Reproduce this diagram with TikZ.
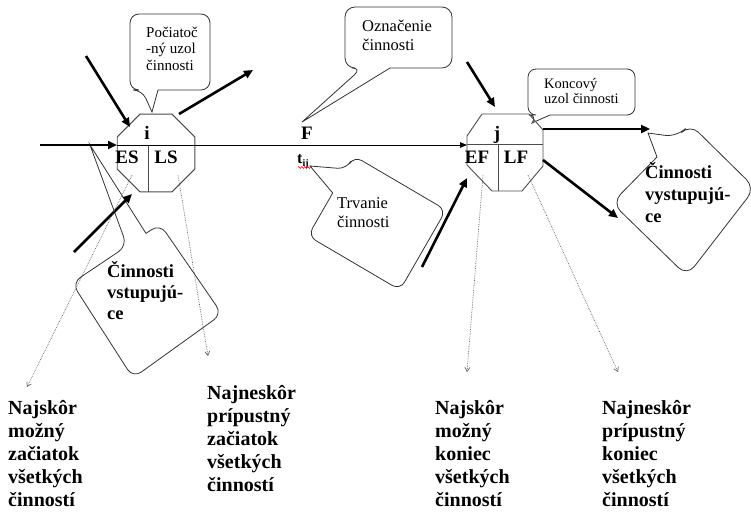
\documentclass[tikz,border=0pt]{standalone}
\usepackage{fontspec}
\setmainfont{Liberation Serif}
\usetikzlibrary{arrows.meta,shapes.geometric,decorations.pathmorphing}
\begin{document}
\begin{tikzpicture}[x=1pt,y=-1pt,
  octline/.style={draw=black!70, line width=0.9pt},
  octnode/.style={regular polygon, regular polygon sides=8, minimum size=84pt, inner sep=0pt, octline},
  bigarrow/.style={line width=2.6pt, -{Triangle[length=9pt,width=8pt]}},
  thinarrow/.style={line width=0.9pt, -{Triangle[length=7pt,width=5.5pt]}},
  dotarrow/.style={draw=black!60, line width=0.7pt, densely dotted, -{Straight Barb[length=4pt,width=5pt]}},
  callout/.style={draw=black!80, line width=0.8pt},
  blabel/.style={inner sep=0pt, font=\bfseries\fontsize{19}{22}\selectfont},
  txt/.style={inner sep=0pt, anchor=north west, align=left},
  bigtxt/.style={txt, font=\bfseries\fontsize{20}{23}\selectfont},
]
\useasboundingbox (0,0) rectangle (751,511);

% ---------- callouts ----------
% Pociatocny uzol
\draw[callout] (142,90) [sharp corners]-- (152,112) -- (158,90) [rounded corners=9pt]-- (210,90) -- (210,14) -- (130,14) -- (130,90) -- cycle;
% Oznacenie cinnosti
\draw[callout] (362,68) [sharp corners]-- (302,122) -- (390,68) [rounded corners=10pt]-- (452,68) -- (452,7) -- (345,7) -- (345,68) -- cycle;
% Trvanie cinnosti
\draw[callout] (346.5,169) [sharp corners]-- (310,166) -- (332.7,193) [rounded corners=9pt]-- (308,236) -- (400,290) -- (446,210) -- (354,156) -- cycle;
% Koncovy uzol
\draw[callout] (537,115) [sharp corners]-- (532,123) -- (550,115) [rounded corners=8pt]-- (635,115) -- (635,69) -- (528,69) -- (528,115) -- cycle;
% Cinnosti vystupujuce
\draw[callout] (677,137) [sharp corners]-- (648,133) -- (657,157) [rounded corners=12pt]-- (612,203) -- (687,276) -- (755,188) -- (690,124) -- cycle;
% Cinnosti vstupujuce
\draw[callout] (127,246) [sharp corners]-- (90,145) -- (146,233.4) [rounded corners=10pt]-- (160,224) -- (222,314) -- (133,378) -- (72,283) -- cycle;

% ---------- octagons ----------
\node[octnode] (i) at (156,153) {};
\draw[octline] (148,145) -- (148,191.8);
\coordinate (j) at (505,152);
\draw[octline] (482,114) -- (529,114) -- (543,130) -- (543,166) -- (522,191) -- (492,191) -- (467,165) -- (467,136) -- cycle;
\draw[octline] (467,144) -- (543,144);
\draw[octline] (498,144) -- (498,191);

% ---------- labels in nodes ----------
\node[blabel] (li) at (147,133) {i};
\node[blabel] (lES) at (127,157) {ES};
\node[blabel] (lLS) at (166,157) {LS};
\node[blabel] (lj) at (497,135) {j};
\node[blabel] (lEF) at (477,157) {EF};
\node[blabel] (lLF) at (516,157) {LF};
\node[blabel] (lF) at (307,133) {F};
\node[inner sep=0pt, anchor=base west, font=\bfseries\fontsize{16}{18}\selectfont] (tij) at (297,163) {t\raisebox{-3pt}{\fontsize{10}{10}\selectfont ij}};
\draw[red, line width=0.5pt, decorate, decoration={zigzag, amplitude=1pt, segment length=3pt}] (298,167.5) -- (311,167.5);

% ---------- main line ----------
\coordinate (ia) at (117,145);
\coordinate (jw) at (467,145);
\draw[thinarrow] (ia) -- (jw);

% ---------- thick arrows ----------
\coordinate (a1s) at (86,56);   \coordinate (a1e) at (130,127);
\coordinate (a2s) at (179,114); \coordinate (a2e) at (253,70);
\coordinate (a3s) at (40,145);  \coordinate (a3e) at (117,145);
\coordinate (a4s) at (74,252);  \coordinate (a4e) at (132,194);
\coordinate (a5s) at (467,62);  \coordinate (a5e) at (495,107);
\coordinate (a6s) at (422,267); \coordinate (a6e) at (467,178);
\coordinate (a7s) at (543,129); \coordinate (a7e) at (650,129);
\coordinate (a8s) at (543,160); \coordinate (a8e) at (618,218);
\draw[bigarrow] (a1s) -- (a1e);
\draw[bigarrow] (a2s) -- (a2e);
\draw[bigarrow] (a3s) -- (a3e);
\draw[bigarrow] (a4s) -- (a4e);
\draw[bigarrow] (a5s) -- (a5e);
\draw[bigarrow] (a6s) -- (a6e);
\draw[bigarrow] (a7s) -- (a7e);
\draw[bigarrow] (a8s) -- (a8e);

% ---------- callout texts ----------
\node[txt, font=\fontsize{15}{16.5}\selectfont] (tpoc) at (146,25.5) {\strut Počiatoč\\-ný uzol\\činnosti};
\node[txt, font=\fontsize{16.5}{19}\selectfont] (tozn) at (362,17.7) {\strut Označenie\\činnosti};
\node[txt, font=\fontsize{16.5}{19}\selectfont] (ttrv) at (337,194.7) {\strut Trvanie\\činnosti};
\node[txt, font=\fontsize{14.5}{15.5}\selectfont] (tkon) at (544,77.2) {\strut Koncový\\uzol činnosti};
\node[txt, font=\bfseries\fontsize{18.5}{22}\selectfont] (tvys) at (645,162.6) {\strut Činnosti\\vystupujú-\\ce};
\node[txt, font=\bfseries\fontsize{18.5}{21}\selectfont] (tvst) at (107,261.3) {\strut Činnosti\\vstupujú-\\ce};

% ---------- bottom texts ----------
\node[bigtxt] (b1) at (8,397.9) {\strut Najskôr\\možný\\začiatok\\všetkých\\činností};
\node[bigtxt] (b2) at (207,382.9) {\strut Najneskôr\\prípustný\\začiatok\\všetkých\\činností};
\node[bigtxt] (b3) at (435,397.9) {\strut Najskôr\\možný\\koniec\\všetkých\\činností};
\node[bigtxt] (b4) at (602,397.9) {\strut Najneskôr\\prípustný\\koniec\\všetkých\\činností};

% ---------- dotted arrows ----------
\coordinate (d1s) at (132,175); \coordinate (d1e) at (27,387);
\coordinate (d2s) at (178,175); \coordinate (d2e) at (208,356);
\coordinate (d3s) at (483,175); \coordinate (d3e) at (467,372);
\coordinate (d4s) at (528,175); \coordinate (d4e) at (618,372);
\draw[dotarrow] (d1s) -- (d1e);
\draw[dotarrow] (d2s) -- (d2e);
\draw[dotarrow] (d3s) -- (d3e);
\draw[dotarrow] (d4s) -- (d4e);
\end{tikzpicture}
\end{document}
